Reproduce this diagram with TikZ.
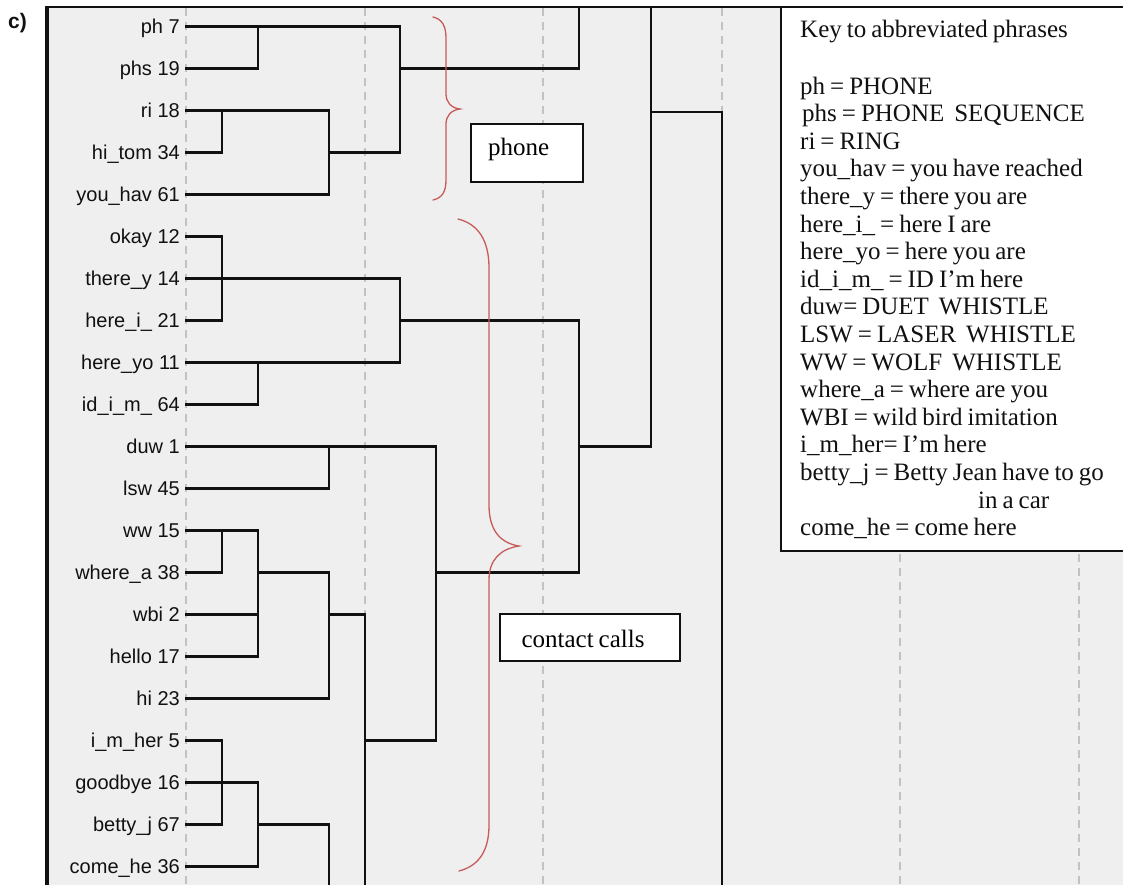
\documentclass[tikz,border=0pt]{standalone}
\usepackage{fontspec}
\setmainfont{Liberation Serif}
\newfontfamily\labfont{Liberation Sans}
\definecolor{panelbg}{HTML}{EFEFEF}
\definecolor{gridgray}{HTML}{C2C2C2}
\definecolor{bracered}{HTML}{C85A5A}
\definecolor{ink}{HTML}{111111}
\newcommand\tightspaces{\spaceskip=0.2em plus 0.05em\relax}
\begin{document}
\begin{tikzpicture}[x=1pt,y=-1pt,
  tree/.style={line width=2.8pt, draw=ink, line cap=rect},
  gridline/.style={line width=1.2pt, draw=gridgray, dash pattern=on 8pt off 6pt},
  brace/.style={line width=1.3pt, draw=bracered, line cap=round},
  lab/.style={font=\labfont\fontsize{20}{23}\selectfont, inner sep=0pt, anchor=base east, text=ink},
  keytxt/.style={font=\fontsize{25}{28}\selectfont, execute at begin node=\tightspaces, inner sep=0pt, anchor=base west, text=ink},
  tagbox/.style={draw=ink, fill=white, line width=1.5pt, font=\fontsize{25}{28}\selectfont, execute at begin node=\tightspaces, align=left, inner ysep=0pt}
]
\useasboundingbox (0,0) rectangle (1123,884);
\clip (0,0) rectangle (1123,884);

% panel
\fill[panelbg] (47,7) rectangle (1140,900);

% grid lines
\foreach \gx in {186,365,543,722,900,1079}
  \draw[gridline] (\gx,8) -- (\gx,900);

% frame
\draw[line width=2.2pt, ink] (46,7) -- (1140,7);
\draw[line width=3.2pt, ink] (47,6) -- (47,900);

% key box
\node[draw=ink, fill=white, line width=1.5pt, inner sep=0pt, anchor=north west,
      minimum width=360pt, minimum height=544pt] (key) at (780,6) {};

% leaf axis points and labels
\foreach \t [count=\i] in {ph 7, phs 19, ri 18, hi\_tom 34, you\_hav 61, okay 12, there\_y 14,
  here\_i\_ 21, here\_yo 11, id\_i\_m\_ 64, duw 1, lsw 45, ww 15, where\_a 38, wbi 2, hello 17,
  hi 23, i\_m\_her 5, goodbye 16, betty\_j 67, come\_he 36} {
  \coordinate (a\i) at (186,{26.7+42*(\i-1)});
  \node[lab] (l\i) at ([xshift=-6pt,yshift=-7pt]a\i) {\t};
}

% column coordinates
\coordinate (cA) at (222,0);
\coordinate (cB) at (258,0);
\coordinate (cC) at (329,0);
\coordinate (cD) at (365,0);
\coordinate (cE) at (400,0);
\coordinate (cF) at (436,0);
\coordinate (cG) at (579,0);
\coordinate (cH) at (651,0);
\coordinate (cI) at (722,0);
\coordinate (top) at (0,7);
\coordinate (bot) at (0,900);
\coordinate (m) at (0,112);

% phone cluster
\draw[tree] (a1) -- (a1-|cE);
\draw[tree] (a2) -- (a2-|cB);
\draw[tree] (a1-|cB) -- (a2-|cB);
\draw[tree] (a3) -- (a3-|cC);
\draw[tree] (a4) -- (a4-|cA);
\draw[tree] (a3-|cA) -- (a4-|cA);
\draw[tree] (a5) -- (a5-|cC);
\draw[tree] (a3-|cC) -- (a5-|cC);
\draw[tree] (a4-|cC) -- (a4-|cE);
\draw[tree] (a1-|cE) -- (a4-|cE);
\draw[tree] (a2-|cE) -- (a2-|cG);
\draw[tree] (top-|cG) -- (a2-|cG);

% okay .. id cluster
\draw[tree] (a6) -- (a6-|cA);
\draw[tree] (a7) -- (a7-|cE);
\draw[tree] (a8) -- (a8-|cA);
\draw[tree] (a6-|cA) -- (a8-|cA);
\draw[tree] (a9) -- (a9-|cE);
\draw[tree] (a10) -- (a10-|cB);
\draw[tree] (a9-|cB) -- (a10-|cB);
\draw[tree] (a7-|cE) -- (a9-|cE);
\draw[tree] (a8-|cE) -- (a8-|cG);
\draw[tree] (a8-|cG) -- (a14-|cG);

% duw / lsw
\draw[tree] (a11) -- (a11-|cF);
\draw[tree] (a12) -- (a12-|cC);
\draw[tree] (a11-|cC) -- (a12-|cC);
\draw[tree] (a11-|cF) -- (a18-|cF);
\draw[tree] (a14-|cF) -- (a14-|cG);

% ww .. hi
\draw[tree] (a13) -- (a13-|cB);
\draw[tree] (a14) -- (a14-|cA);
\draw[tree] (a13-|cA) -- (a14-|cA);
\draw[tree] (a15) -- (a15-|cB);
\draw[tree] (a16) -- (a16-|cB);
\draw[tree] (a13-|cB) -- (a16-|cB);
\draw[tree] (a14-|cB) -- (a14-|cC);
\draw[tree] (a17) -- (a17-|cC);
\draw[tree] (a14-|cC) -- (a17-|cC);
\draw[tree] (a15-|cC) -- (a15-|cD);
\draw[tree] (a15-|cD) -- (bot-|cD);
\draw[tree] (a18-|cD) -- (a18-|cF);

% i_m_her .. come_he
\draw[tree] (a18) -- (a18-|cA);
\draw[tree] (a19) -- (a19-|cB);
\draw[tree] (a20) -- (a20-|cA);
\draw[tree] (a18-|cA) -- (a20-|cA);
\draw[tree] (a21) -- (a21-|cB);
\draw[tree] (a19-|cB) -- (a21-|cB);
\draw[tree] (a20-|cB) -- (a20-|cC);
\draw[tree] (a20-|cC) -- (bot-|cC);

% upper merges
\draw[tree] (a11-|cG) -- (a11-|cH);
\draw[tree] (top-|cH) -- (a11-|cH);
\draw[tree] (m-|cH) -- (m-|cI);
\draw[tree] (m-|cI) -- (bot-|cI);

% tag boxes
\node[tagbox, minimum width=112pt, minimum height=58pt, text width=78pt, inner xsep=17pt,
      text height=10pt, text depth=6pt] (phonebox) at (527,153) {phone};
\node[tagbox, minimum width=180pt, minimum height=47pt, text width=137pt, inner xsep=21.5pt,
      text height=19pt, text depth=0pt] (contactbox) at (590,637.5) {contact calls};

% braces
\draw[brace] (433,17) .. controls (442,19) and (446,26) .. (446,38) -- (446,94)
  .. controls (446,102) and (451,108) .. (460,109)
  .. controls (451,110) and (446,116) .. (446,124) -- (446,180)
  .. controls (446,192) and (442,198) .. (433,200);
\draw[brace] (458,219) .. controls (478,224) and (489,240) .. (489,268) -- (489,505)
  .. controls (489,530) and (500,543) .. (519,546)
  .. controls (500,549) and (489,560) .. (489,580) -- (489,825)
  .. controls (489,852) and (478,866) .. (459,871);

% key text
\node[keytxt] (k0) at (800,37) {Key to abbreviated phrases};
\node[keytxt] (k1) at (800,94) {ph = PHONE};
\node[keytxt] (k2) at (802,121.6) {phs = PHONE\ \ SEQUENCE};
\node[keytxt] (k3) at (800,149.2) {ri = RING};
\node[keytxt] (k4) at (800,176.8) {you\_hav = you have reached};
\node[keytxt] (k5) at (800,204.4) {there\_y = there you are};
\node[keytxt] (k6) at (800,232) {here\_i\_ = here I are};
\node[keytxt] (k7) at (800,259.6) {here\_yo = here you are};
\node[keytxt] (k8) at (800,287.2) {id\_i\_m\_ = ID I’m here};
\node[keytxt] (k9) at (800,314.8) {duw= DUET\ \ WHISTLE};
\node[keytxt] (k10) at (800,342.4) {LSW = LASER\ \ WHISTLE};
\node[keytxt] (k11) at (800,370) {WW = WOLF\ \ WHISTLE};
\node[keytxt] (k12) at (800,397.6) {where\_a = where are you};
\node[keytxt] (k13) at (800,425.2) {WBI = wild bird imitation};
\node[keytxt] (k14) at (800,452.8) {i\_m\_her= I’m here};
\node[keytxt] (k15) at (800,480.4) {betty\_j = Betty Jean have to go};
\node[keytxt] (k16) at (978,508) {in a car};
\node[keytxt] (k17) at (800,535.6) {come\_he = come here};

% panel tag
\node[font=\labfont\bfseries\fontsize{21}{24}\selectfont, inner sep=0pt, anchor=base west, text=ink] (tag) at (8,28) {c)};
\end{tikzpicture}
\end{document}
